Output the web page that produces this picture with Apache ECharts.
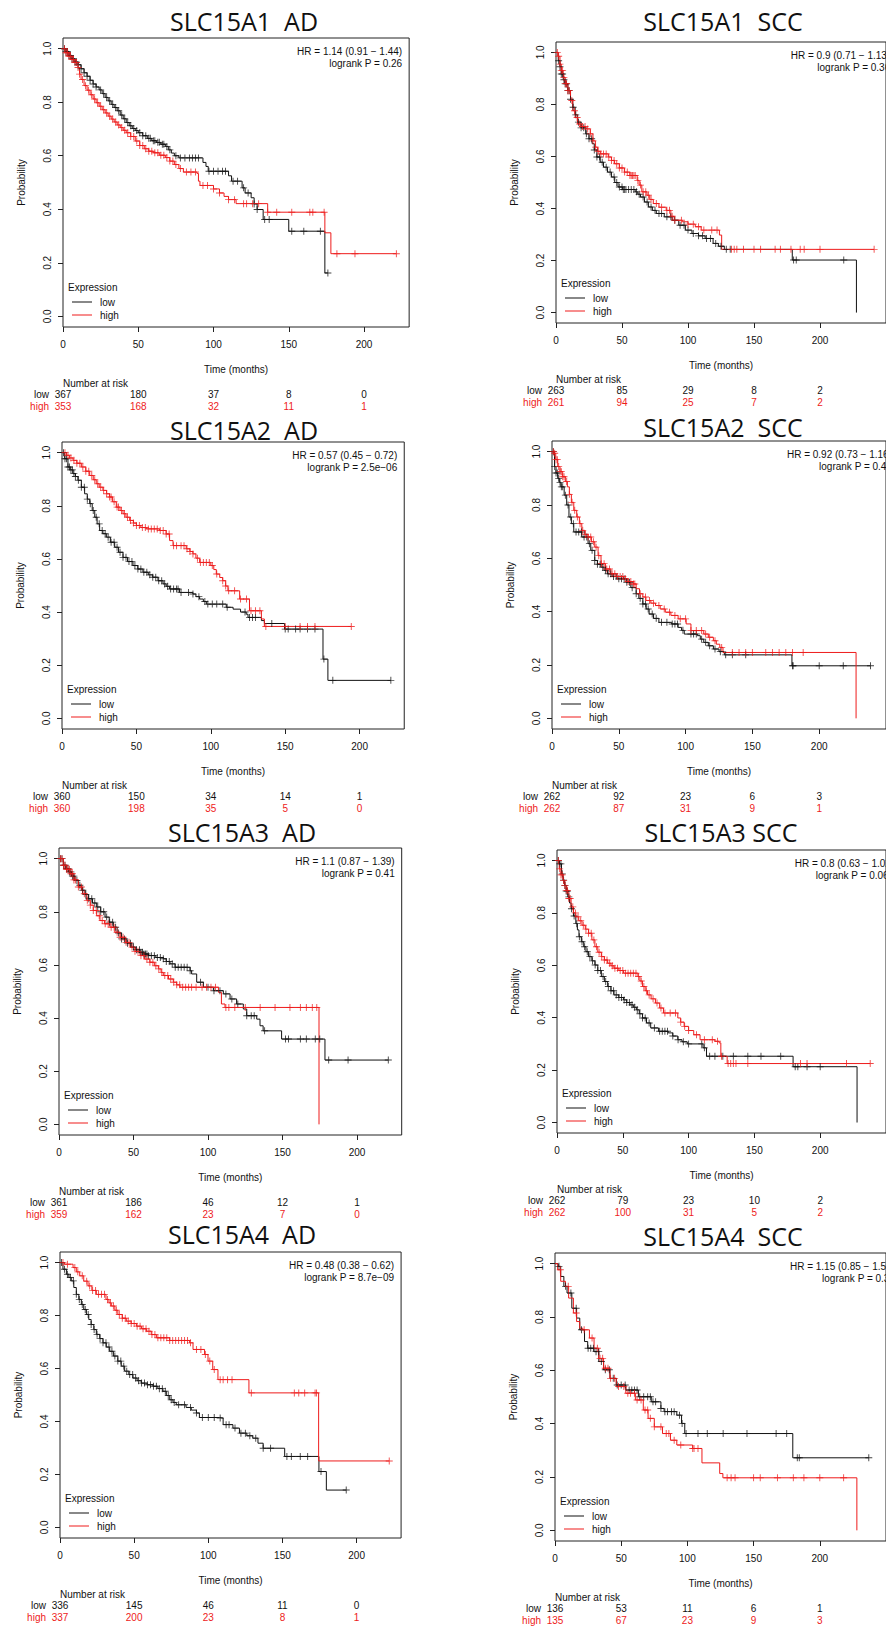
<!DOCTYPE html>
<html>
<head>
<meta charset="utf-8">
<script src="https://cdn.jsdelivr.net/npm/echarts@6.0.0/dist/echarts.min.js"></script>
<style>
  html, body { margin: 0; padding: 0; background: #fff; }
  #chart { width: 886px; height: 1629px; }
</style>
</head>
<body>
<div id="chart"></div>
<script>
// ---- data: Kaplan-Meier step points [months, survival] and censor times ----
const A1_AD_LOW = [[0,1],[2,0.99],[4,0.975],[6,0.962],[8,0.95],[10,0.94],[12,0.925],[14,0.91],[16,0.897],[18,0.882],[20,0.868],[22,0.857],[24,0.846],[26,0.832],[28,0.818],[30,0.805],[32,0.792],[34,0.78],[36,0.768],[38,0.752],[40,0.738],[42,0.724],[44,0.712],[46,0.702],[48,0.694],[50,0.686],[53,0.675],[56,0.665],[59,0.656],[62,0.65],[65,0.643],[68,0.635],[70,0.622],[72,0.61],[74,0.6],[77,0.592],[93,0.575],[95,0.56],[96.5,0.542],[110,0.525],[112,0.505],[119,0.48],[121,0.461],[125,0.443],[127,0.42],[129,0.399],[133,0.362],[150,0.318],[174,0.162],[176,0.162]];
const A1_AD_LOW_CENS = [1,2,3,4,5,6,7,8,9,10,12,14,16,18,20,22,25,27,29,31,33,35,37,39,41,43,45,47,49,51,53,55,57,58,60,61,63,64,66,67,69,71,75,78,81,84,86,88,90,97,100,103,106,108,113,116,120,123,127,129,134,137,152,160,171,176];
const A1_AD_HIGH = [[0,1],[2,0.985],[4,0.972],[6,0.96],[8,0.948],[10,0.93],[11,0.905],[12,0.885],[14,0.862],[16,0.845],[18,0.828],[20,0.812],[22,0.798],[24,0.785],[26,0.772],[28,0.76],[30,0.748],[32,0.737],[34,0.726],[36,0.715],[38,0.705],[40,0.695],[42,0.686],[45,0.672],[48,0.655],[51,0.638],[54,0.626],[57,0.617],[60,0.611],[64,0.602],[68,0.593],[71,0.58],[74,0.567],[77,0.552],[80,0.539],[89,0.534],[90,0.505],[91,0.489],[100,0.476],[104,0.461],[107,0.448],[110,0.436],[115,0.421],[136,0.389],[174,0.312],[178,0.234],[221.5,0.234]];
const A1_AD_HIGH_CENS = [1,2,3,4,5,6,7,8,9,10,11,13,15,17,19,21,23,25,27,29,31,33,35,37,39,41,43,45,47,49,51,53,55,57,59,61,63,65,67,69,71,73,75,78,82,85,88,93,96,100,104,110,114,120,122,126,130,136,142,152,164,166,173.5,182,194,221.5];

const A1_SCC_LOW = [[0,1],[1.7,0.968],[3,0.945],[4,0.917],[5.5,0.895],[6.6,0.879],[9,0.853],[11,0.82],[12.7,0.789],[14.5,0.76],[16.4,0.732],[19,0.71],[22.5,0.687],[25,0.668],[27.4,0.649],[29,0.625],[31,0.598],[33.5,0.578],[36,0.559],[39,0.54],[42,0.521],[44.5,0.5],[47,0.483],[50.5,0.473],[60,0.464],[62,0.455],[64,0.444],[67,0.425],[70,0.406],[73,0.393],[76,0.381],[82,0.368],[88,0.355],[93,0.336],[98,0.317],[103,0.304],[108,0.295],[113,0.285],[119,0.266],[123,0.255],[127.5,0.243],[179,0.202],[227.6,0]];
const A1_SCC_LOW_CENS = [2,3,4,5,6,7,8,9,10,11,13,15,17,19,21,23,25,27,29,31,33,35,38,41,44,46,48,50,51,52,53,55,57,59,61,63,66,69,72,75,78,80,84,87,90,94,97,100,104,108,111,114,117,121,125,129,132,180,182,218];
const A1_SCC_HIGH = [[0,1],[1.5,0.985],[3,0.955],[4,0.93],[5.4,0.904],[7,0.88],[9,0.853],[11,0.815],[12.7,0.776],[14.5,0.75],[16.4,0.725],[19,0.715],[22.5,0.706],[26,0.687],[28,0.66],[29.8,0.636],[31.5,0.62],[33.5,0.61],[39.6,0.598],[42,0.585],[44.4,0.572],[48,0.556],[51.8,0.54],[56,0.527],[61.5,0.508],[63,0.49],[65,0.464],[68.9,0.451],[71,0.435],[73.7,0.419],[78,0.405],[83.5,0.393],[87,0.37],[89.6,0.355],[95.7,0.349],[100,0.34],[105.5,0.33],[110,0.317],[123.8,0.298],[125.5,0.243],[241,0.243]];
const A1_SCC_HIGH_CENS = [1,2,3,4,5,6,7,8,9,10,12,14,16,18,20,22,24,26,28,30,32,34,36,38,40,42,44,46,48,50,52,54,56,57,58,59,60,62,64,66,68,70,72,76,80,84,86,88,90,95,100,104,108,112,118,122,133,135,137,142,150,155,166,170,178,185,188,200,241];

const A2_AD_LOW = [[0,1],[1.8,0.977],[4,0.946],[5.5,0.935],[7.4,0.921],[9,0.91],[10.7,0.896],[13,0.87],[15.2,0.845],[17,0.825],[18.6,0.808],[20.3,0.782],[22,0.757],[23.6,0.732],[25.3,0.707],[27.5,0.695],[29.8,0.682],[32.5,0.663],[35.4,0.644],[38,0.625],[41,0.606],[44,0.59],[47.7,0.575],[51,0.562],[54.4,0.55],[58,0.54],[61,0.531],[64.5,0.518],[67.9,0.506],[70,0.497],[72.3,0.487],[79,0.474],[88,0.468],[90,0.458],[92.5,0.449],[95,0.44],[97,0.43],[110.4,0.418],[115,0.411],[120,0.4],[123.8,0.392],[125,0.38],[134,0.368],[136,0.357],[149.6,0.336],[175.4,0.223],[178.7,0.143],[221,0.143]];
const A2_AD_LOW_CENS = [1,2,3,4,5,6,7,8,9,11,13,15,17,19,21,23,25,27,29,31,33,35,37,39,41,43,45,47,49,51,53,55,57,59,61,63,65,67,69,71,73,75,77,78,80,85,88,92,96,98,101,104,108,111,123,126,128,130,141,150,152,157,160,165,170,176,182,221];
const A2_AD_HIGH = [[0,1],[3,0.99],[5,0.98],[7.4,0.971],[10,0.96],[13,0.946],[16,0.93],[18.6,0.914],[21,0.898],[23,0.883],[25,0.87],[27.5,0.858],[30,0.845],[32,0.833],[34,0.815],[36.5,0.795],[39,0.782],[41,0.77],[43,0.757],[45.5,0.745],[48,0.735],[50,0.726],[53,0.718],[56.7,0.713],[65.6,0.707],[70,0.694],[72.3,0.669],[74.6,0.65],[83.5,0.638],[86,0.628],[88,0.619],[90,0.603],[92.5,0.587],[100,0.575],[102,0.56],[103.7,0.543],[106,0.53],[108,0.518],[110,0.498],[111.5,0.48],[119.4,0.449],[126,0.405],[134,0.374],[136,0.346],[194.4,0.346]];
const A2_AD_HIGH_CENS = [2,4,6,8,10,12,14,16,18,20,22,24,26,28,30,32,33,35,37,38,40,42,44,46,48,50,52,54,56,58,60,62,64,66,68,70,72,75,77,80,82,84,86,88,91,93,95,97,99,101,104,108,110,112,116,120,124,127,130,133,137,150,160,165,170,194.4];

const A2_SCC_LOW = [[0,1],[1.9,0.944],[3,0.92],[4.3,0.9],[5.5,0.885],[6.7,0.868],[9.1,0.837],[11,0.8],[12.7,0.755],[14.5,0.73],[16.3,0.699],[22.3,0.68],[27,0.655],[29,0.63],[32,0.592],[34,0.578],[36.7,0.567],[39,0.555],[41.5,0.542],[45,0.532],[48.7,0.523],[56,0.51],[59,0.49],[63,0.467],[65,0.45],[68,0.429],[70.5,0.41],[72.7,0.391],[76,0.375],[80,0.36],[89.6,0.354],[94.4,0.341],[97,0.33],[99,0.316],[108.8,0.31],[111,0.297],[113.6,0.285],[117,0.272],[120.8,0.26],[125,0.25],[129,0.238],[179.6,0.197],[238.4,0.197]];
const A2_SCC_LOW_CENS = [1,2,3,4,5,6,7,8,10,12,14,16,18,20,22,24,26,28,30,32,34,36,38,40,42,44,46,48,50,52,54,56,58,60,63,66,68,70,72,75,78,82,86,90,92,94,98,104,106,108,112,115,118,122,126,130,135,145,180,180.5,200,218,238.4];
const A2_SCC_HIGH = [[0,1],[1.4,0.994],[2.8,0.97],[4.3,0.944],[6,0.925],[8,0.906],[10,0.888],[11.5,0.868],[13,0.84],[14.5,0.81],[16.3,0.78],[18.5,0.755],[20.5,0.73],[22.3,0.705],[24.5,0.69],[27,0.68],[29.5,0.662],[32,0.642],[34.5,0.61],[36.7,0.58],[40,0.56],[44,0.542],[48,0.532],[53.5,0.523],[57,0.513],[60.7,0.504],[63,0.486],[65.5,0.467],[68,0.455],[70.3,0.442],[74,0.432],[77.5,0.423],[81,0.41],[84.8,0.398],[89,0.386],[94.4,0.373],[100.4,0.354],[104,0.329],[113.6,0.316],[117,0.304],[120.8,0.291],[123,0.278],[125.6,0.266],[128,0.247],[227.6,0]];
const A2_SCC_HIGH_CENS = [1,2,3,4,5,6,7,8,9,11,13,15,17,19,21,23,25,27,29,31,33,35,37,39,41,43,45,47,49,51,53,55,57,59,61,62,66,70,73,76,80,84,88,92,96,100,104,108,112,115,118,122,127,135,140,145,150,160,165,170,175,180,188];

const A3_AD_LOW = [[0,1],[2.9,0.975],[4.5,0.962],[6.3,0.95],[8.5,0.934],[10.7,0.918],[13,0.9],[15.2,0.881],[17.5,0.865],[19.7,0.849],[22.5,0.833],[25.3,0.818],[28,0.8],[30.9,0.78],[33.7,0.761],[36.5,0.742],[39,0.72],[42,0.698],[45.5,0.682],[48.8,0.667],[51.5,0.657],[54.4,0.648],[57,0.641],[60,0.635],[65,0.628],[70,0.623],[72,0.613],[74.5,0.604],[77.9,0.591],[88,0.578],[89,0.566],[92.4,0.535],[96.9,0.516],[103.6,0.503],[110.3,0.491],[114.8,0.472],[119.2,0.453],[123.7,0.434],[126,0.409],[132.7,0.396],[134.9,0.371],[137,0.352],[149.4,0.321],[178.5,0.242],[221,0.242]];
const A3_AD_LOW_CENS = [1,2,3,4,5,6,7,8,9,10,12,14,16,18,20,22,24,26,28,30,32,34,36,38,40,42,44,46,48,50,52,54,55,56,57,58,59,60,62,64,66,68,70,72,74,76,78,80,82,84,86,88,95,100,104,108,112,116,120,126,129,131,138,152,154,162,166,172,175,181,194,221];
const A3_AD_HIGH = [[0,1],[2.9,0.975],[5,0.96],[7.4,0.943],[10,0.92],[13,0.893],[15.8,0.868],[18.6,0.843],[21,0.825],[23,0.805],[25.3,0.785],[27.5,0.767],[30.5,0.755],[34.2,0.742],[37.5,0.723],[41,0.704],[44.5,0.685],[47.7,0.667],[51,0.651],[54.4,0.635],[57.5,0.622],[61,0.61],[64,0.597],[66.7,0.585],[68.5,0.572],[70,0.56],[73.5,0.547],[76.7,0.535],[79,0.525],[81.2,0.516],[107,0.497],[109,0.453],[111.4,0.44],[174.5,0]];
const A3_AD_HIGH_CENS = [1,2,3,4,5,6,7,8,9,10,11,13,15,17,19,21,23,25,27,29,31,33,35,37,39,41,43,45,47,49,51,53,55,57,59,61,63,65,67,69,71,73,75,77,79,81,83,85,87,89,92,96,99,102,105,112,114,118,125,135,145,155,162,166,170,173];

const A3_SCC_LOW = [[0,1],[1.7,0.987],[3.4,0.949],[4.6,0.925],[5.8,0.905],[7,0.883],[8.2,0.861],[9.5,0.838],[10.7,0.816],[12.5,0.788],[14.3,0.759],[15.5,0.735],[16.7,0.709],[18.5,0.69],[20.3,0.671],[22,0.652],[24,0.633],[26.5,0.617],[28.8,0.601],[31,0.58],[33.7,0.557],[36,0.538],[38.5,0.519],[41,0.503],[43.3,0.487],[47,0.477],[50.6,0.468],[53,0.458],[55.4,0.449],[58,0.44],[60.3,0.43],[62.5,0.415],[65,0.399],[68,0.38],[71.2,0.361],[77.2,0.348],[84.5,0.342],[88,0.33],[91.8,0.316],[95,0.308],[99,0.3],[111,0.285],[113.6,0.253],[179.4,0.213],[228,0]];
const A3_SCC_LOW_CENS = [1,2,3,4,5,6,7,8,9,11,13,15,17,19,21,23,25,27,29,31,33,35,37,39,41,43,45,47,49,51,53,55,57,59,61,63,65,67,70,74,78,80,82,84,88,92,96,100,110,112,116,120,126,134,145,155,170,181,183,190,200];
const A3_SCC_HIGH = [[0,1],[1.7,0.968],[3,0.945],[4.6,0.924],[6,0.905],[7,0.886],[9,0.855],[10.7,0.823],[12.5,0.8],[14.3,0.785],[16.5,0.77],[19,0.753],[21.5,0.738],[24,0.722],[26.5,0.697],[28.8,0.671],[31,0.65],[33.7,0.633],[36,0.62],[38.5,0.608],[41,0.598],[43.3,0.589],[47,0.58],[50.6,0.57],[61.5,0.557],[63,0.54],[65,0.519],[67,0.503],[68.8,0.487],[71.5,0.472],[74.8,0.456],[78,0.437],[80.9,0.418],[91.8,0.399],[94,0.383],[96.6,0.367],[100,0.351],[103.9,0.335],[108.7,0.316],[120,0.31],[123.2,0.304],[124.5,0.253],[129.3,0.225],[238,0.225]];
const A3_SCC_HIGH_CENS = [1,2,3,4,5,6,7,8,9,10,12,14,16,18,20,22,24,26,28,30,32,34,36,38,40,42,44,46,48,50,52,54,56,58,60,62,64,66,68,70,73,76,79,82,86,90,94,97,100,106,112,118,122,125,130,132,134,136,145,185,190,220,238];

const A4_AD_LOW = [[0,1],[2,0.975],[4.3,0.956],[6,0.944],[7.6,0.931],[9.3,0.906],[11,0.88],[12.7,0.861],[14.4,0.842],[16,0.823],[17.8,0.804],[19.4,0.785],[21,0.766],[22.8,0.747],[24.5,0.729],[26.8,0.713],[29,0.697],[31.2,0.681],[33.5,0.665],[36,0.647],[39,0.628],[41.3,0.609],[43.6,0.59],[46.4,0.577],[49.2,0.564],[52,0.554],[54.8,0.545],[58.7,0.539],[62.7,0.533],[66,0.524],[69.4,0.514],[71.7,0.498],[74,0.482],[76.2,0.472],[78.4,0.463],[85,0.453],[88.5,0.443],[92,0.432],[94,0.415],[107.6,0.413],[110,0.388],[116.6,0.375],[121,0.356],[126,0.346],[130,0.337],[133.5,0.318],[137,0.299],[151.5,0.268],[174.6,0.211],[179.6,0.141],[193,0.141]];
const A4_AD_LOW_CENS = [1,3,5,7,9,11,13,15,17,19,21,23,25,27,29,31,33,35,37,39,41,43,45,47,49,51,53,55,57,59,61,63,65,67,69,71,73,75,77,80,84,88,92,96,100,104,108,112,114,118,122,125,128,132,137,142,153,156,162,167,176,193];
const A4_AD_HIGH = [[0,1],[3,0.994],[8.8,0.981],[11,0.965],[13.3,0.95],[16,0.93],[18.9,0.912],[21.5,0.895],[24.5,0.88],[31,0.861],[33,0.848],[34.6,0.836],[37,0.82],[39,0.804],[42,0.79],[44.7,0.779],[48,0.77],[51.5,0.76],[55,0.75],[58.2,0.741],[61.5,0.728],[65,0.716],[74,0.706],[87.4,0.697],[89.7,0.672],[97.5,0.653],[99.8,0.628],[103,0.596],[106.5,0.558],[127.4,0.508],[174.4,0.251],[222,0.251]];
const A4_AD_HIGH_CENS = [2,5,10,12,15,18,20,22,24,26,28,30,32,34,36,38,40,42,44,46,48,50,52,54,56,58,60,62,64,66,68,70,72,74,76,78,80,82,84,86,88,92,95,98,101,104,108,110,113,116,129,158,161,165,172,173,222];

const A4_SCC_LOW = [[0,1],[2.4,0.99],[4.3,0.952],[6.7,0.915],[9.1,0.89],[12.7,0.833],[16.3,0.796],[18.7,0.752],[22.3,0.708],[24.7,0.683],[29.5,0.67],[33.1,0.633],[36.7,0.602],[41.5,0.57],[46.3,0.545],[53.5,0.526],[63,0.501],[72.7,0.482],[80,0.457],[82.4,0.445],[92,0.432],[95.6,0.401],[98,0.363],[179.6,0.272],[237,0.272]];
const A4_SCC_LOW_CENS = [3,8,12,16,20,25,27,29,31,33,35,38,41,44,47,50,53,56,58,60,62,64,67,70,72,74,76,80,83,85,88,90,94,96,99,108,115,127,145,167,175,183,184.5,237];
const A4_SCC_HIGH = [[0,1],[2,0.977],[4.3,0.934],[7.9,0.915],[10.3,0.871],[13.9,0.815],[16.3,0.783],[18.7,0.758],[21,0.752],[26,0.721],[29.5,0.683],[33,0.645],[36.7,0.608],[41.5,0.57],[46.3,0.539],[53.5,0.514],[60.7,0.489],[66.7,0.451],[70.3,0.42],[75,0.388],[81.2,0.363],[87.2,0.338],[92,0.32],[104,0.307],[111,0.253],[124.4,0.213],[126.8,0.197],[228,0]];
const A4_SCC_HIGH_CENS = [4,10,16,22,28,32,34,36,38,40,42,45,48,52,55,57,60,62,65,68,70,72,75,80,84,86,90,95,104,105,108,130,133,136,150,155,168,180,188,200,218];

// numbers at risk at months 0, 50, 100, 150, 200
const NAR_LOW  = [[367,180,37,8,0],[263,85,29,8,2],[360,150,34,14,1],[262,92,23,6,3],[361,186,46,12,1],[262,79,23,10,2],[336,145,46,11,0],[136,53,11,6,1]];
const NAR_HIGH = [[353,168,32,11,1],[261,94,25,7,2],[360,198,35,5,0],[262,87,31,9,1],[359,162,23,7,0],[262,100,31,5,2],[337,200,23,8,1],[135,67,23,9,3]];

const TITLES = ['SLC15A1  AD','SLC15A1  SCC','SLC15A2  AD','SLC15A2  SCC','SLC15A3  AD','SLC15A3 SCC','SLC15A4  AD','SLC15A4  SCC'];
const HR_TEXT = ['HR = 1.14 (0.91 − 1.44)','HR = 0.9 (0.71 − 1.13)','HR = 0.57 (0.45 − 0.72)','HR = 0.92 (0.73 − 1.16)','HR = 1.1 (0.87 − 1.39)','HR = 0.8 (0.63 − 1.02)','HR = 0.48 (0.38 − 0.62)','HR = 1.15 (0.85 − 1.56)'];
const P_TEXT = ['logrank P = 0.26','logrank P = 0.36','logrank P = 2.5e−06','logrank P = 0.48','logrank P = 0.41','logrank P = 0.067','logrank P = 8.7e−09','logrank P = 0.37'];

const X_TICKS = [0, 50, 100, 150, 200];
const Y_TICKS = [0, 0.2, 0.4, 0.6, 0.8, 1.0];

const CURVES_LOW  = [A1_AD_LOW, A1_SCC_LOW, A2_AD_LOW, A2_SCC_LOW, A3_AD_LOW, A3_SCC_LOW, A4_AD_LOW, A4_SCC_LOW];
const CENS_LOW    = [A1_AD_LOW_CENS, A1_SCC_LOW_CENS, A2_AD_LOW_CENS, A2_SCC_LOW_CENS, A3_AD_LOW_CENS, A3_SCC_LOW_CENS, A4_AD_LOW_CENS, A4_SCC_LOW_CENS];
const CURVES_HIGH = [A1_AD_HIGH, A1_SCC_HIGH, A2_AD_HIGH, A2_SCC_HIGH, A3_AD_HIGH, A3_SCC_HIGH, A4_AD_HIGH, A4_SCC_HIGH];
const CENS_HIGH   = [A1_AD_HIGH_CENS, A1_SCC_HIGH_CENS, A2_AD_HIGH_CENS, A2_SCC_HIGH_CENS, A3_AD_HIGH_CENS, A3_SCC_HIGH_CENS, A4_AD_HIGH_CENS, A4_SCC_HIGH_CENS];

// ---- layout of the 8 panels (plot box in px) ----
const boxLeft   = [63, 556, 62, 552, 59, 557, 60, 555];
const boxTop    = [38, 42, 442, 441, 848, 850, 1252, 1253];
const boxHeight = [289, 281, 287, 288, 287, 283, 286, 288];
const pxPerMonth = [1.505, 1.365, 1.488, 1.388, 1.49, 1.377, 1.483, 1.388];
const xMax = [230, 250, 230, 250, 230, 250, 230, 250];
const titleX = [244, 723, 244, 723, 242, 721, 242, 723];
const titleY = [21, 21, 430, 427, 832, 832, 1234, 1236];

const BLACK = '#111111';
const RED = '#ee1b1b';
const FONT = '"Liberation Sans", Arial, Helvetica, sans-serif';
const PLUS = 'path://M-1,-0.13 L1,-0.13 L1,0.13 L-1,0.13 Z M-0.13,-1 L0.13,-1 L0.13,1 L-0.13,1 Z';

function survAt(curve, t) {
    let s = 1;
    for (const [ct, cs] of curve) {
        if (ct <= t) s = cs; else break;
    }
    return s;
}

const chart = echarts.init(document.getElementById('chart'), null, {renderer: 'svg'});

const grids = [], xAxes = [], narLowAxes = [], narHighAxes = [], yAxes = [];
const series = [], legends = [], graphics = [];

for (let i = 0; i < 8; i++) {
    const w = xMax[i] * pxPerMonth[i];
    const bottom = boxTop[i] + boxHeight[i];
    grids.push({
        left: boxLeft[i], top: boxTop[i], width: w, height: boxHeight[i],
        show: true, borderColor: '#222', borderWidth: 1, backgroundColor: '#fff'
    });
    xAxes.push({
        gridIndex: i, type: 'value', min: 0, max: xMax[i], position: 'bottom',
        axisLine: {show: false, onZero: false},
        splitLine: {show: false},
        axisTick: {show: true, length: 5, customValues: X_TICKS, lineStyle: {color: '#222'}},
        axisLabel: {customValues: X_TICKS, margin: 12, fontSize: 10, fontFamily: FONT, color: BLACK},
        name: 'Time (months)', nameLocation: 'middle', nameGap: 37,
        nameTextStyle: {fontSize: 10, fontFamily: FONT, color: BLACK}
    });
    narLowAxes.push({
        gridIndex: i, type: 'value', min: 0, max: xMax[i], position: 'bottom', offset: 62,
        axisLine: {show: false, onZero: false}, axisTick: {show: false}, splitLine: {show: false},
        axisLabel: {customValues: X_TICKS, margin: 0, fontSize: 10, fontFamily: FONT, color: BLACK,
            formatter: v => String(NAR_LOW[i][X_TICKS.indexOf(v)])},
        name: 'low', nameLocation: 'start', nameGap: 14,
        nameTextStyle: {fontSize: 10, fontFamily: FONT, color: BLACK, verticalAlign: 'top', align: 'right'}
    });
    narHighAxes.push({
        gridIndex: i, type: 'value', min: 0, max: xMax[i], position: 'bottom', offset: 74,
        axisLine: {show: false, onZero: false}, axisTick: {show: false}, splitLine: {show: false},
        axisLabel: {customValues: X_TICKS, margin: 0, fontSize: 10, fontFamily: FONT, color: RED,
            formatter: v => String(NAR_HIGH[i][X_TICKS.indexOf(v)])},
        name: 'high', nameLocation: 'start', nameGap: 14,
        nameTextStyle: {fontSize: 10, fontFamily: FONT, color: RED, verticalAlign: 'top', align: 'right'}
    });
    yAxes.push({
        gridIndex: i, type: 'value', min: -0.04, max: 1.04,
        axisLine: {show: false, onZero: false},
        splitLine: {show: false},
        axisTick: {show: true, length: 5, customValues: Y_TICKS, lineStyle: {color: '#222'}},
        axisLabel: {customValues: Y_TICKS, rotate: 90, margin: 11, fontSize: 10, fontFamily: FONT, color: BLACK,
            formatter: v => v.toFixed(1)},
        name: 'Probability', nameLocation: 'middle', nameRotate: 90, nameGap: 37,
        nameTextStyle: {fontSize: 10, fontFamily: FONT, color: BLACK}
    });

    const groups = [
        {name: 'low', color: BLACK, curve: CURVES_LOW[i], cens: CENS_LOW[i]},
        {name: 'high', color: RED, curve: CURVES_HIGH[i], cens: CENS_HIGH[i]}
    ];
    groups.forEach(g => {
        series.push({
            type: 'line', name: g.name, xAxisIndex: i, yAxisIndex: i,
            step: 'end', symbol: 'none', data: g.curve,
            lineStyle: {color: g.color, width: 1}, itemStyle: {color: g.color},
            silent: true, z: 2
        });
    });
    groups.forEach(g => {
        series.push({
            type: 'scatter', name: g.name, xAxisIndex: i, yAxisIndex: i,
            symbol: PLUS, symbolSize: 7,
            data: g.cens.map(t => [t, survAt(g.curve, t)]),
            itemStyle: {color: g.color}, silent: true, z: 3
        });
    });

    legends.push({
        data: ['low', 'high'], orient: 'vertical', left: boxLeft[i] + 9, top: bottom - 31,
        padding: 0, itemGap: 1, itemWidth: 20, itemHeight: 1, icon: 'rect', selectedMode: false,
        textStyle: {fontSize: 10, fontFamily: FONT, color: BLACK, lineHeight: 12, padding: [0, 0, 0, 3]}
    });

    const right = boxLeft[i] + w - 7;
    graphics.push(
        {type: 'text', x: titleX[i], y: titleY[i], silent: true,
         style: {text: TITLES[i], font: '25px "Open Sans", "DejaVu Sans", sans-serif', fill: BLACK,
                 textAlign: 'center', textVerticalAlign: 'middle', align: 'center', verticalAlign: 'middle'}},
        {type: 'text', x: right, y: boxTop[i] + 13, silent: true,
         style: {text: HR_TEXT[i], font: '10px ' + FONT, fill: BLACK, textAlign: 'right', textVerticalAlign: 'middle', align: 'right', verticalAlign: 'middle'}},
        {type: 'text', x: right, y: boxTop[i] + 25, silent: true,
         style: {text: P_TEXT[i], font: '10px ' + FONT, fill: BLACK, textAlign: 'right', textVerticalAlign: 'middle', align: 'right', verticalAlign: 'middle'}},
        {type: 'text', x: boxLeft[i] + 5, y: bottom - 40, silent: true,
         style: {text: 'Expression', font: '10px ' + FONT, fill: BLACK, textAlign: 'left', textVerticalAlign: 'middle', align: 'left', verticalAlign: 'middle'}},
        {type: 'text', x: boxLeft[i], y: bottom + 56, silent: true,
         style: {text: 'Number at risk', font: '10px ' + FONT, fill: BLACK, textAlign: 'left', textVerticalAlign: 'middle', align: 'left', verticalAlign: 'middle'}}
    );
}

chart.setOption({
    animation: false,
    backgroundColor: '#fff',
    legend: legends,
    grid: grids,
    xAxis: xAxes.concat(narLowAxes, narHighAxes),
    yAxis: yAxes,
    series: series,
    graphic: {elements: graphics}
});
</script>
</body>
</html>
